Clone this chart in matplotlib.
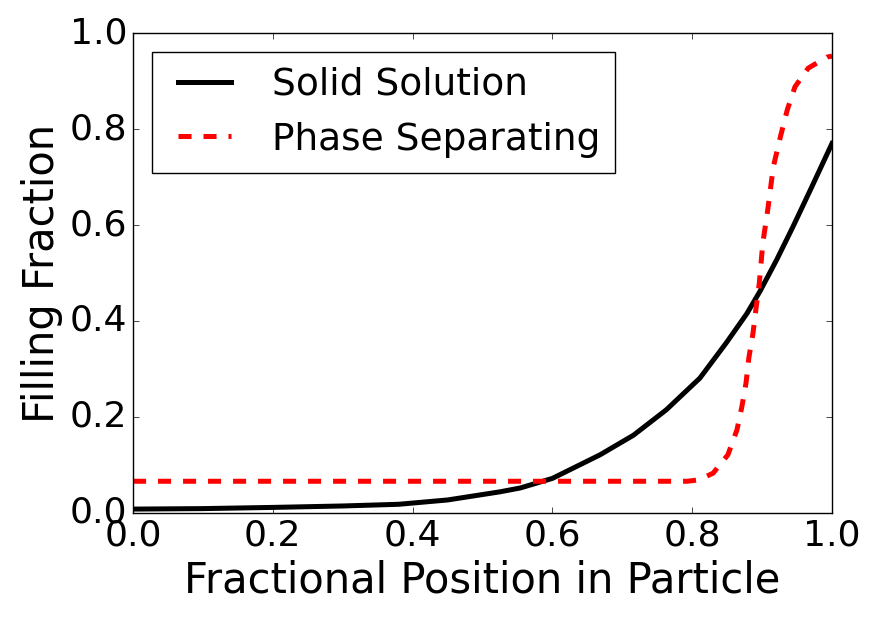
import numpy as np
import matplotlib
matplotlib.use('Agg')
import matplotlib.pyplot as plt

plt.style.use('classic')

# ── Data ──────────────────────────────────────────────────────
x_solid = [0.0, 0.1, 0.2, 0.3, 0.38, 0.45, 0.525, 0.554, 0.6, 0.668, 0.716,
           0.763, 0.811, 0.849, 0.878, 0.897, 0.921, 0.944, 0.969, 1.0]
y_solid = [0.008, 0.009, 0.0115, 0.0145, 0.018, 0.027, 0.044, 0.052, 0.072,
           0.121, 0.162, 0.215, 0.281, 0.355, 0.415, 0.462, 0.528, 0.596,
           0.673, 0.77]

x_phase = [0.0, 0.2, 0.4, 0.6, 0.793, 0.81, 0.83, 0.851, 0.864, 0.871, 0.877,
           0.881, 0.887, 0.891, 0.896, 0.901, 0.908, 0.916, 0.926, 0.936,
           0.947, 0.966, 0.993, 1.0]
y_phase = [0.066, 0.066, 0.066, 0.066, 0.066, 0.069, 0.083, 0.121, 0.173,
           0.221, 0.271, 0.323, 0.375, 0.423, 0.479, 0.5625, 0.631, 0.721,
           0.783, 0.84, 0.888, 0.927, 0.95, 0.952]

# ── Plot ──────────────────────────────────────────────────────
fig = plt.figure(figsize=(8.77, 6.24), dpi=100, facecolor='white')
ax = fig.add_axes([0.1517, 0.178, 0.797, 0.769])

ax.plot(x_solid, y_solid, color='black', lw=3.6, label='Solid Solution')
ax.plot(x_phase, y_phase, color='red', lw=3.6, dashes=(9.4, 8.6),
        label='Phase Separating')

ax.set_xlim(0, 1); ax.set_ylim(0, 1)
ax.set_xticks(np.arange(0, 1.01, 0.2)); ax.set_yticks(np.arange(0, 1.01, 0.2))
ax.tick_params(labelsize=26)
ax.set_xlabel('Fractional Position in Particle', fontsize=30)
ax.set_ylabel('Filling Fraction', fontsize=30)
ax.legend(loc='upper left', fontsize=27)

fig.savefig('out.png', dpi=100, facecolor='white')
